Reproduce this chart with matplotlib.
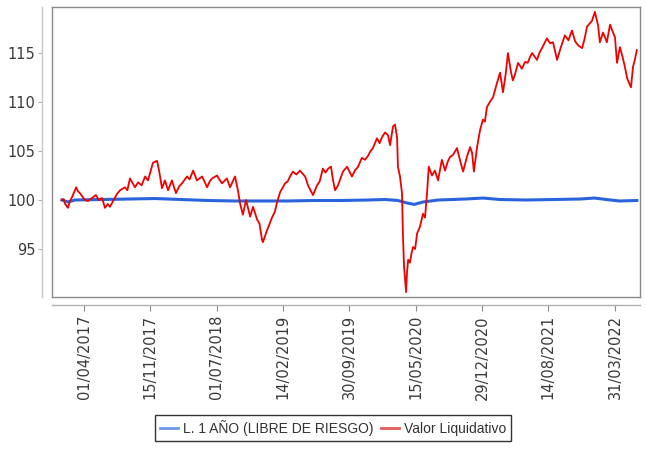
import matplotlib
matplotlib.use("Agg")
import matplotlib.pyplot as plt
import matplotlib.dates as mdates
from matplotlib.lines import Line2D
import pandas as pd

# Valor Liquidativo (red series)
vl_dates = [
    "2017-01-15", "2017-01-21", "2017-01-26", "2017-02-05", "2017-02-12", "2017-02-19",
    "2017-03-05", "2017-03-11", "2017-03-18", "2017-04-04", "2017-04-15", "2017-04-28",
    "2017-05-12", "2017-05-22", "2017-06-02", "2017-06-12", "2017-06-22", "2017-06-29",
    "2017-07-10", "2017-07-23", "2017-08-03", "2017-08-20", "2017-08-28", "2017-09-06",
    "2017-09-23", "2017-10-04", "2017-10-16", "2017-10-28", "2017-11-07", "2017-11-24",
    "2017-12-08", "2017-12-15", "2017-12-25", "2018-01-04", "2018-01-15", "2018-01-28",
    "2018-02-11", "2018-02-22", "2018-03-04", "2018-03-21", "2018-03-30", "2018-04-11",
    "2018-04-24", "2018-05-12", "2018-05-29", "2018-06-07", "2018-06-15", "2018-07-02",
    "2018-07-19", "2018-08-05", "2018-08-16", "2018-09-02", "2018-09-12", "2018-09-19",
    "2018-09-29", "2018-10-10", "2018-10-24", "2018-11-03", "2018-11-17", "2018-11-25",
    "2018-12-04", "2018-12-07", "2018-12-21", "2019-01-07", "2019-01-17", "2019-01-24",
    "2019-02-04", "2019-02-21", "2019-03-02", "2019-03-10", "2019-03-20", "2019-04-01",
    "2019-04-13", "2019-05-01", "2019-05-11", "2019-05-28", "2019-06-11", "2019-06-20",
    "2019-07-01", "2019-07-10", "2019-07-19", "2019-07-29", "2019-08-05", "2019-08-12",
    "2019-08-22", "2019-09-08", "2019-09-22", "2019-10-09", "2019-10-19", "2019-10-30",
    "2019-11-12", "2019-11-23", "2019-12-03", "2019-12-10", "2019-12-20", "2020-01-03",
    "2020-01-12", "2020-01-20", "2020-01-31", "2020-02-10", "2020-02-17", "2020-02-27",
    "2020-03-05", "2020-03-12", "2020-03-15", "2020-03-22", "2020-03-29", "2020-04-01",
    "2020-04-05", "2020-04-12", "2020-04-15", "2020-04-19", "2020-04-25", "2020-05-01",
    "2020-05-06", "2020-05-13", "2020-05-20", "2020-05-30", "2020-06-09", "2020-06-16",
    "2020-06-23", "2020-06-29", "2020-07-10", "2020-07-20", "2020-07-31", "2020-08-13",
    "2020-08-24", "2020-09-02", "2020-09-10", "2020-09-20", "2020-10-04", "2020-10-14",
    "2020-10-25", "2020-11-07", "2020-11-18", "2020-11-25", "2020-12-01", "2020-12-12",
    "2020-12-22", "2021-01-01", "2021-01-08", "2021-01-15", "2021-01-25", "2021-02-05",
    "2021-02-18", "2021-03-01", "2021-03-11", "2021-03-21", "2021-03-28", "2021-04-08",
    "2021-04-14", "2021-04-22", "2021-05-02", "2021-05-15", "2021-05-26", "2021-06-04",
    "2021-06-12", "2021-06-19", "2021-07-06", "2021-07-14", "2021-07-23", "2021-08-09",
    "2021-08-20", "2021-08-30", "2021-09-13", "2021-09-26", "2021-10-10", "2021-10-22",
    "2021-11-03", "2021-11-14", "2021-11-24", "2021-12-08", "2021-12-16", "2021-12-25",
    "2022-01-11", "2022-01-21", "2022-02-01", "2022-02-07", "2022-02-18", "2022-03-03",
    "2022-03-14", "2022-03-31", "2022-04-07", "2022-04-17", "2022-04-26", "2022-05-04",
    "2022-05-12", "2022-05-22", "2022-05-25", "2022-06-01", "2022-06-08", "2022-06-14",
]
vl_values = [
    100.0, 100.1, 99.6, 99.2, 99.9, 100.3,
    101.3, 100.9, 100.7, 100.0, 99.9, 100.2,
    100.5, 100.0, 100.2, 99.2, 99.6, 99.3,
    99.9, 100.6, 101.0, 101.3, 101.0, 102.2,
    101.3, 101.8, 101.5, 102.4, 102.0, 103.8,
    104.0, 103.0, 101.2, 102.0, 101.0, 102.0,
    100.7, 101.4, 101.7, 102.4, 102.1, 103.0,
    102.0, 102.4, 101.3, 101.9, 102.2, 102.5,
    101.7, 102.2, 101.3, 102.4, 101.0, 99.7,
    98.5, 100.0, 98.3, 99.3, 98.0, 97.6,
    95.9, 95.7, 96.9, 98.2, 98.8, 99.7,
    100.8, 101.7, 101.9, 102.4, 102.9, 102.6,
    103.0, 102.4, 101.5, 100.5, 101.5, 101.9,
    103.2, 102.8, 103.2, 103.4, 102.0, 101.0,
    101.5, 102.9, 103.4, 102.4, 103.0, 103.4,
    104.3, 104.1, 104.5, 104.9, 105.3, 106.3,
    105.8, 106.4, 106.9, 106.6, 105.6, 107.5,
    107.7, 106.4, 103.4, 102.4, 100.7, 96.6,
    93.2, 90.6, 92.5, 93.9, 93.6, 94.6,
    95.2, 95.0, 96.6, 97.3, 98.6, 98.2,
    100.7, 103.4, 102.5, 103.0, 102.0, 104.1,
    103.0, 103.9, 104.4, 104.6, 105.3, 104.1,
    102.9, 104.4, 105.4, 104.8, 102.9, 105.4,
    107.1, 108.2, 108.0, 109.5, 110.0, 110.5,
    111.9, 113.0, 111.0, 113.0, 115.0, 113.0,
    112.2, 112.9, 114.0, 113.4, 114.1, 114.0,
    114.6, 115.0, 114.3, 115.0, 115.5, 116.5,
    116.0, 116.1, 114.3, 115.6, 116.8, 116.3,
    117.3, 116.2, 115.8, 115.5, 116.4, 117.7,
    118.3, 119.2, 117.8, 116.1, 117.1, 116.1,
    117.9, 116.6, 114.0, 115.6, 114.6, 113.6,
    112.4, 111.7, 111.5, 113.6, 114.4, 115.3,
]

# L. 1 AÑO (LIBRE DE RIESGO) (blue series)
rf_dates = [
    "2017-01-15", "2017-02-05", "2017-03-01", "2017-06-01", "2017-09-01", "2017-12-01",
    "2018-03-01", "2018-06-01", "2018-09-01", "2018-12-01", "2019-03-01", "2019-06-01",
    "2019-09-01", "2019-12-01", "2020-02-01", "2020-03-15", "2020-04-15", "2020-05-10",
    "2020-06-10", "2020-08-01", "2020-11-01", "2021-01-01", "2021-03-01", "2021-06-01",
    "2021-09-01", "2021-12-01", "2022-01-20", "2022-03-01", "2022-04-15", "2022-06-14",
]
rf_values = [
    100.0, 99.8, 100.0, 100.05, 100.1, 100.15,
    100.05, 99.95, 99.9, 99.9, 99.9, 99.95,
    99.95, 100.0, 100.05, 99.95, 99.7, 99.55,
    99.8, 100.0, 100.1, 100.2, 100.05, 100.0,
    100.05, 100.1, 100.2, 100.05, 99.9, 99.95,
]

tick_dates = ["2017-04-01", "2017-11-15", "2018-07-01", "2019-02-14", "2019-09-30",
              "2020-05-15", "2020-12-29", "2021-08-14", "2022-03-31"]
y_ticks = [95, 100, 105, 110, 115]

grey = "#8a8a8a"
txt = "#3a3a3a"
blue = "#2a64dc"
red = "#f00000"

fig = plt.figure(figsize=(6.46, 4.5), dpi=100)
ax = fig.add_axes([52 / 646, 1 - 297 / 450, 588 / 646, 290 / 450])

ax.plot(pd.to_datetime(rf_dates), rf_values, color=blue, lw=2.2)
ax.plot(pd.to_datetime(vl_dates), vl_values, color=red, lw=1.3)

ax.set_xlim(pd.Timestamp("2016-12-12"), pd.Timestamp("2022-06-25"))
ax.set_ylim(90.1, 119.7)

ax.set_yticks(y_ticks)
ax.set_xticks(pd.to_datetime(tick_dates))
ax.xaxis.set_major_formatter(mdates.DateFormatter("%d/%m/%Y"))

for s in ax.spines.values():
    s.set_color(grey)
    s.set_linewidth(1.0)
# axis lines sit slightly outside the plot frame
ax.spines["bottom"].set_position(("outward", 6))
ax.spines["left"].set_position(("outward", 7))
ax.spines["bottom"].set_color("#b0b0b0")
ax.spines["left"].set_color("#c8c8c8")
ax.plot([0, 1], [0, 0], transform=ax.transAxes, color=grey, lw=1.0, clip_on=False)
ax.plot([0, 0], [0, 1], transform=ax.transAxes, color=grey, lw=1.0, clip_on=False)

ax.tick_params(axis="y", direction="out", length=3, width=0.8, color="#b0b0b0",
               labelsize=10.5, labelcolor=txt, pad=2)
ax.tick_params(axis="x", direction="out", length=4, width=0.8, color=grey,
               labelsize=10.5, labelcolor=txt, pad=3, labelrotation=90)

handles = [Line2D([], [], color="#6a98ea", lw=2),
           Line2D([], [], color="#e85a5a", lw=2)]
labels = ["L. 1 AÑO (LIBRE DE RIESGO)", "Valor Liquidativo"]
leg = fig.legend(handles, labels, loc="center", bbox_to_anchor=(333 / 646, 1 - 428 / 450),
                 ncol=2, frameon=True, fancybox=False, handlelength=1.3,
                 handletextpad=0.4, columnspacing=0.5, borderpad=0.35,
                 borderaxespad=0, prop={"family": "Liberation Sans", "size": 10})
leg.get_frame().set_edgecolor("black")
leg.get_frame().set_linewidth(1.0)
for t in leg.get_texts():
    t.set_color("#333333")

fig.savefig("out.png", dpi=100)
